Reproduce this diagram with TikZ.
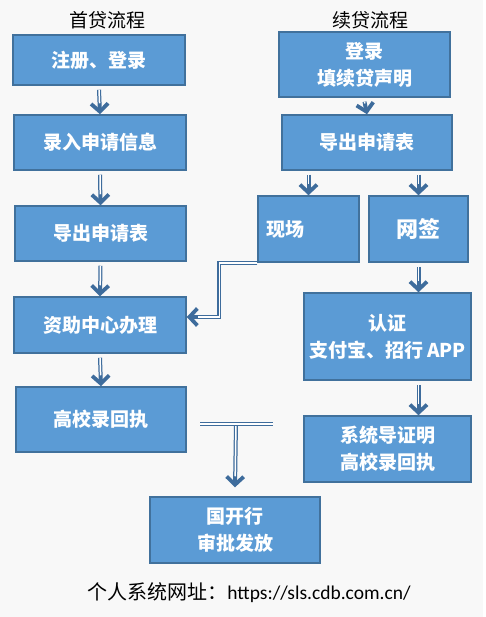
\documentclass[tikz,border=0pt]{standalone}
\usepackage{fontspec}
\newfontfamily\cjk{Noto Sans CJK SC}
\newfontfamily\urlfont{Carlito}
\usetikzlibrary{arrows.meta}
\definecolor{boxfill}{HTML}{5B9BD5}
\definecolor{boxline}{HTML}{41719C}
\definecolor{pagegray}{HTML}{F8F8F8}
\definecolor{arrowblue}{HTML}{3E6C9C}
\begin{document}
\begin{tikzpicture}
[x=1pt, y=-1pt,
  boxDecorate/.style={shape=rectangle,draw=boxline,line width=1.5pt,fill=boxfill,
    text=white,align=center,inner sep=0pt,font=\cjk\bfseries\fontsize{19}{27}\selectfont},
  titleDecorate/.style={font=\cjk\fontsize{19}{22}\selectfont,inner sep=0pt},
  lineDecorate/.style={draw=arrowblue,line width=4pt,
    postaction={draw=white,line width=1.5pt}},
  arrowDecorate/.style={draw=arrowblue,line width=4pt,
    -{Straight Barb[length=8pt,width=17pt,line width=3.8pt]},
    postaction={draw=white,-,line width=1.5pt,shorten >=11pt}}]
%% page
\useasboundingbox (0,0) rectangle (486,617);
\fill[pagegray] (0,0) rectangle (483,617);
%% titles
\node (firstTitle) at (107,20) [titleDecorate] {首贷流程};
\node (renewTitle) at (370,20) [titleDecorate] {续贷流程};
%% boxes
\foreach \nodename/\x/\y/\w/\h/\txt in {
  b1/99/60/172/50/{注册、登录}, b2/100/142.5/172/55/{录入申请信息},
  b3/100.5/233.5/171/55/{导出申请表}, b4/100/325/172/56/{资助中心办理},
  b5/101/419.5/170/65/{高校录回执},
  r1/364.5/64.5/171/65/{登录\\填续贷声明}, r2/367/142.5/170/55/{导出申请表},
  rz/387.5/336.5/167/87/{认证\\支付宝、招行 APP},
  xt/387.5/449/167/66/{系统导证明\\高校录回执},
  gk/235/530/170/66/{国开行\\审批发放}}
{
  \node (\nodename) at (\x,\y) [boxDecorate,minimum width=\w pt,minimum height=\h pt] {\txt};
}
\node (xc) at (308.5,229) [boxDecorate,minimum width=101pt,minimum height=66pt,
  text width=85pt,align=left] {现场};
\node (wq) at (418.5,229) [boxDecorate,minimum width=99pt,minimum height=66pt,
  font=\cjk\bfseries\fontsize{22}{27}\selectfont] {网签};
%% footer
\node (siteNote) at (249,593) [titleDecorate,font=\cjk\fontsize{20}{22}\selectfont]
  {个人系统网址：{\urlfont\fontsize{19.5}{22}\selectfont https://sls.cdb.com.cn/}};
%% connectors
\foreach \startnode/\endnode in {
  b1.south/b2.north, b2.south/b3.north, b3.south/b4.north, b4.south/b5.north,
  r1.south/r2.north, r2.south -| xc/xc.north, r2.south -| wq/wq.north,
  wq.south/wq.south |- rz.north, rz.south -| wq/wq |- xt.north}
{
  \draw[arrowDecorate] ([yshift=-4pt]\startnode) -- (\endnode);
}
\draw[arrowDecorate] (xc.south west) -- ++(-38,0) |- ([yshift=8pt]b4.east);
%% merge into the bank
\coordinate (tleft) at (200,424);
\coordinate (tright) at (273,424);
\coordinate (tmid) at (236,424);
\draw[arrowDecorate] (tmid) -- ([yshift=9pt]gk.north);
\draw[lineDecorate] (tleft) -- (tright);
\end{tikzpicture}
\end{document}
